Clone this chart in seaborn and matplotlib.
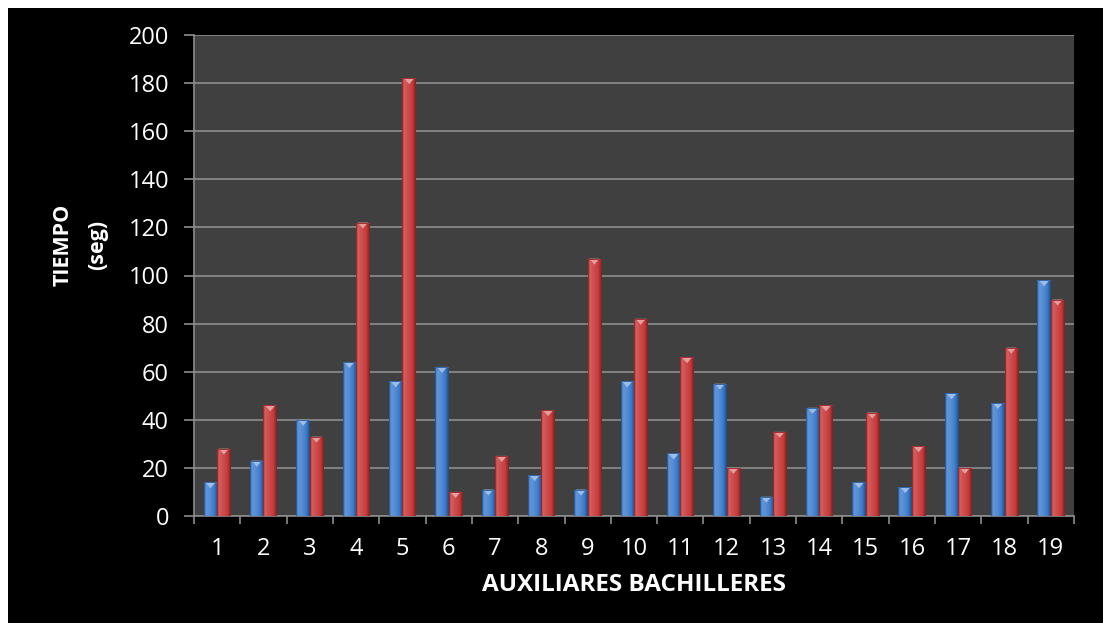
import numpy as np
import pandas as pd
import matplotlib
matplotlib.use("Agg")
import matplotlib.pyplot as plt
from matplotlib.patches import Rectangle, Polygon
from matplotlib.colors import to_rgb
import seaborn as sns

# Data: time (seconds) per auxiliary, two series
auxiliares = [str(i) for i in range(1, 20)]
serie_a = [14, 23, 40, 64, 56, 62, 11, 17, 11, 56, 26, 55, 8, 45, 14, 12, 51, 47, 98]
serie_b = [28, 46, 33, 122, 182, 10, 25, 44, 107, 82, 66, 20, 35, 46, 43, 29, 20, 70, 90]
series_names = ["Serie A", "Serie B"]
y_ticks = list(range(0, 201, 20))

df = pd.DataFrame({
    "aux": auxiliares * 2,
    "tiempo": serie_a + serie_b,
    "serie": [series_names[0]] * len(auxiliares) + [series_names[1]] * len(auxiliares),
})

sns.set_theme(style="dark")
plt.rcParams["font.family"] = ["Open Sans", "DejaVu Sans"]

W, H = 1103, 623
fig = plt.figure(figsize=(W / 100, H / 100), dpi=100, facecolor="white")
# black chart area framed by a thin white margin at top and left
fig.patches.append(Rectangle((8 / W, 0), 1 - 8 / W, (H - 8) / H,
                             transform=fig.transFigure, facecolor="black",
                             edgecolor="none", zorder=-10))

ax = fig.add_axes([194 / W, (H - 516) / H, 880 / W, 481 / H])
ax.set_facecolor("#404040")

palette = {series_names[0]: "#3b7bcc", series_names[1]: "#c83a3a"}
sns.barplot(data=df, x="aux", y="tiempo", hue="serie", order=auxiliares,
            hue_order=series_names, palette=palette, width=0.58, gap=0,
            saturation=1, legend=False, ax=ax, zorder=3, linewidth=0)

# bevelled look: horizontal gradient plus a light chevron at the top of each bar
def shade(base, light, dark, n=64):
    t = np.linspace(0, 1, n)
    prof = np.interp(t, [0, 0.12, 0.4, 0.75, 1.0], [dark, 0.2, light, 0.0, dark])
    b = np.array(to_rgb(base))
    rows = []
    for p in prof:
        if p >= 0:
            rows.append(b + (1 - b) * p)
        else:
            rows.append(b * (1 + p))
    return np.clip(np.array(rows)[None, :, :], 0, 1)

grads = {
    to_rgb(palette[series_names[0]]): shade(palette[series_names[0]], 0.15, -0.4),
    to_rgb(palette[series_names[1]]): shade(palette[series_names[1]], 0.10, -0.4),
}
ppu_y = 481 / 200.0
for p in list(ax.patches):
    x0, y0 = p.get_x(), p.get_y()
    w, h = p.get_width(), p.get_height()
    if h <= 0:
        continue
    col = tuple(p.get_facecolor()[:3])
    key = min(grads.keys(), key=lambda c: sum((a - b) ** 2 for a, b in zip(c, col)))
    im = ax.imshow(grads[key], extent=(x0, x0 + w, y0, y0 + h), aspect="auto",
                   interpolation="bilinear", zorder=4)
    im.set_clip_path(p)
    top = y0 + h
    dh = 6 / ppu_y
    light = np.array(key) + (1 - np.array(key)) * 0.5
    tri = Polygon([(x0 + w * 0.12, top), (x0 + w * 0.88, top),
                   (x0 + w * 0.5, top - dh)], closed=True,
                  facecolor=light, edgecolor="none", zorder=5)
    ax.add_patch(tri)
    ax.add_patch(Rectangle((x0, top - 1 / ppu_y), w, 1 / ppu_y,
                           facecolor=np.array(key) * 0.85, edgecolor="none", zorder=5))

ax.set_xlim(-0.5, len(auxiliares) - 0.5)
ax.set_ylim(0, 200)
ax.set_yticks(y_ticks)
ax.set_yticklabels([str(v) for v in y_ticks])
ax.grid(axis="y", color="#8c8c8c", linewidth=1.2, zorder=1)
ax.grid(axis="x", visible=False)
ax.set_axisbelow(True)

for side in ["top", "right"]:
    ax.spines[side].set_visible(False)
for side in ["left", "bottom"]:
    ax.spines[side].set_visible(True)
    ax.spines[side].set_color("#8c8c8c")
    ax.spines[side].set_linewidth(1.2)

# x tick marks sit on category boundaries, labels at centres
ax.set_xticks(np.arange(-0.5, len(auxiliares) + 0.5, 1.0), minor=False)
ax.set_xticklabels([])
ax.set_xticks(np.arange(len(auxiliares)), minor=True)
ax.set_xticklabels(auxiliares, minor=True)
ax.tick_params(axis="x", which="major", direction="out", length=6,
               width=1.2, color="#8c8c8c", bottom=True)
ax.tick_params(axis="x", which="minor", length=0, pad=15,
               labelsize=17, labelcolor="white", bottom=True)
ax.tick_params(axis="y", direction="out", length=7, width=1.2,
               color="#8c8c8c", labelsize=17, labelcolor="white", pad=11, left=True)

ax.set_xlabel("AUXILIARES BACHILLERES", fontsize=17.5, fontweight="bold",
              color="white", labelpad=9)
ax.set_ylabel("")
fig.text(63 / W, 1 - 245 / H, "TIEMPO", rotation=90, fontsize=15.5,
         fontweight="bold", color="white", ha="center", va="center")
fig.text(98 / W, 1 - 245 / H, "(seg)", rotation=90, fontsize=15.5,
         fontweight="bold", color="white", ha="center", va="center")

fig.savefig("out.png", dpi=100, facecolor=fig.get_facecolor())
